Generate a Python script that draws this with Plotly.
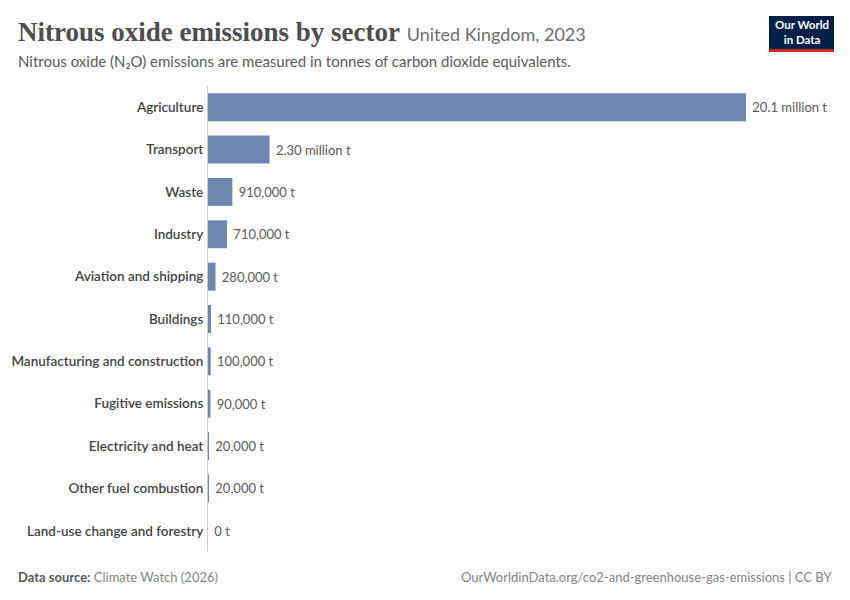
import plotly.graph_objects as go

sectors = ['Agriculture', 'Transport', 'Waste', 'Industry', 'Aviation and shipping',
           'Buildings', 'Manufacturing and construction', 'Fugitive emissions',
           'Electricity and heat', 'Other fuel combustion', 'Land-use change and forestry']
emissions = [20100000, 2300000, 910000, 710000, 280000,
             110000, 100000, 90000, 20000, 20000, 0]


def fmt(v):
    if v >= 1e6:
        m = v / 1e6
        return (f'{m:.1f}' if m >= 10 else f'{m:.2f}') + ' million t'
    return f'{v:,.0f} t'


labels = [' ' + fmt(v) for v in emissions]

# the page body has an 8px margin, so lay out in screen pixels minus 8
OFF = 8
W, H = 850 - OFF, 600 - OFF
L, R, T, B = 208 - OFF, 746 - OFF, 86 - OFF, 552 - OFF  # plot area


def px(x):
    return (x - OFF - L) / (R - L)


def py(y):
    return (B - (y - OFF)) / (B - T)


fig = go.Figure(go.Bar(
    x=emissions, y=sectors, orientation='h',
    marker=dict(color='#6d87b0', line=dict(width=0)),
    text=labels, textposition='outside', constraintext='none', cliponaxis=False,
    textfont=dict(family='Lato', size=13, color='#5b5b5b'),
    hoverinfo='skip',
))

fig.update_layout(
    width=W, height=H,
    margin=dict(l=L, r=W - R, t=T, b=H - B),
    paper_bgcolor='white', plot_bgcolor='white',
    bargap=0.34, showlegend=False,
    font=dict(family='Lato', color='#444'),
    xaxis=dict(range=[0, max(emissions)], visible=False, fixedrange=True, automargin=False),
    yaxis=dict(autorange='reversed', showline=True, linecolor='#cccccc', linewidth=1,
               showgrid=False, ticks='', ticklabelstandoff=1, automargin=False,
               tickfont=dict(family='Lato', size=13.5, color='#444444', weight=600)),
)

annos = [
    dict(x=px(15.5), y=py(32), xanchor='left', yanchor='middle',
         text='<b>Nitrous oxide emissions by sector</b> '
              '<span style="font-family:Lato;font-size:18px;color:#6e6e6e">United Kingdom, 2023</span>',
         font=dict(family='Liberation Serif', size=27, color='#4e4e4e')),
    dict(x=px(15.5), y=py(61), xanchor='left', yanchor='middle',
         text='Nitrous oxide (N₂O) emissions are measured in tonnes of carbon dioxide equivalents.',
         font=dict(family='Lato', size=15, color='#5b5b5b')),
    dict(x=px(15.5), y=py(577), xanchor='left', yanchor='middle',
         text='<b>Data source:</b> <span style="color:#858585">Climate Watch (2026)</span>',
         font=dict(family='Lato', size=13, color='#5b5b5b')),
    dict(x=px(834), y=py(577), xanchor='right', yanchor='middle',
         text='OurWorldinData.org/co2-and-greenhouse-gas-emissions | CC BY',
         font=dict(family='Lato', size=13, color='#858585')),
    dict(x=px(801.5), y=py(32.5), xanchor='center', yanchor='middle',
         text='<b>Our World<br>in Data</b>',
         font=dict(family='Lato', size=11.5, color='white')),
]
for a in annos:
    a.update(xref='paper', yref='paper', showarrow=False)
fig.update_layout(annotations=annos)

fig.update_layout(shapes=[
    dict(type='rect', xref='paper', yref='paper', x0=px(769), x1=px(834), y0=py(49), y1=py(16),
         fillcolor='#002147', line=dict(width=0), layer='above'),
    dict(type='rect', xref='paper', yref='paper', x0=px(769), x1=px(834), y0=py(52), y1=py(49),
         fillcolor='#ce261e', line=dict(width=0), layer='above'),
])

fig.write_html('out.html')
